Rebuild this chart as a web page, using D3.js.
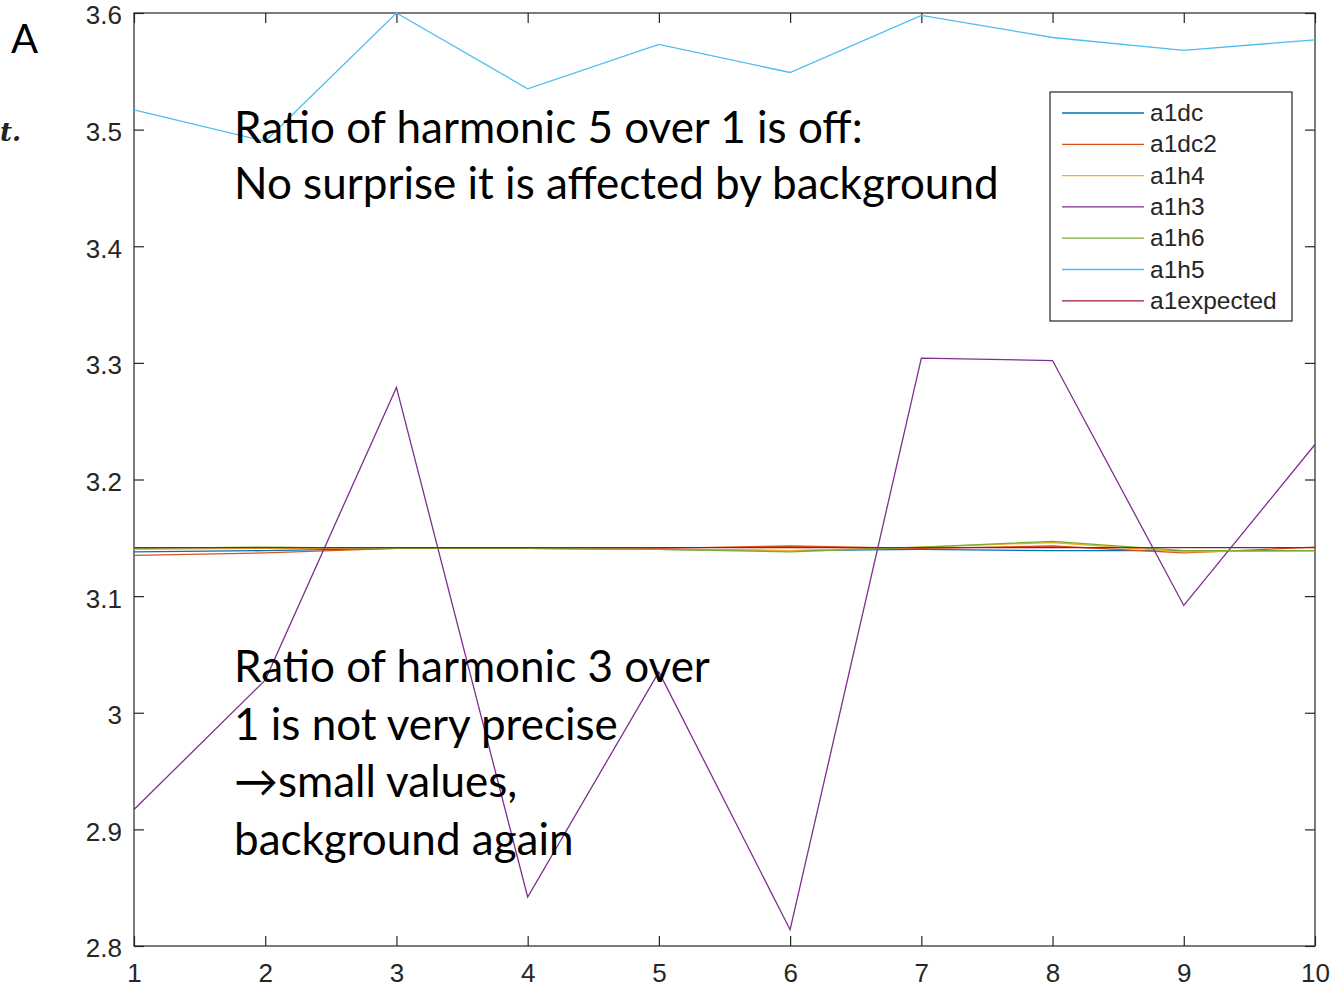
<!DOCTYPE html>
<html><head><meta charset="utf-8">
<script src="https://cdn.jsdelivr.net/npm/d3@7"></script>
<style>body{margin:0;background:#fff}svg{display:block}</style>
</head><body>
<script>
const xs = [1,2,3,4,5,6,7,8,9,10];
const seriesNames = ["a1dc","a1dc2","a1h4","a1h3","a1h6","a1h5","a1expected"];
const seriesColors = ["#0072BD","#D95319","#EDB120","#7E2F8E","#77AC30","#4DBEEE","#A2142F"];
const a1dc = [3.138,3.139,3.141,3.141,3.140,3.139,3.140,3.139,3.139,3.139];
const a1dc2 = [3.135,3.137,3.141,3.141,3.141,3.143,3.141,3.143,3.137,3.142];
const a1h4 = [3.140,3.141,3.141,3.141,3.140,3.139,3.142,3.146,3.138,3.139];
const a1h3 = [2.917,3.028,3.279,2.842,3.035,2.814,3.304,3.302,3.092,3.230];
const a1h6 = [3.141,3.142,3.141,3.141,3.140,3.138,3.142,3.147,3.139,3.139];
const a1h5 = [3.517,3.490,3.600,3.535,3.573,3.549,3.598,3.579,3.568,3.577];
const a1expected = [3.1416,3.1416,3.1416,3.1416,3.1416,3.1416,3.1416,3.1416,3.1416,3.1416];
const seriesValues = [a1dc,a1dc2,a1h4,a1h3,a1h6,a1h5,a1expected];
const yTicks = [2.8,2.9,3,3.1,3.2,3.3,3.4,3.5,3.6];
const xTicks = [1,2,3,4,5,6,7,8,9,10];
const noteTop = ["Ratio of harmonic 5 over 1 is off:","No surprise it is affected by background"];
const noteBottom = ["Ratio of harmonic 3 over","1 is not very precise","\u2192small values,","background again"];

const W=1344,H=991;
const L=134,R=1315,T=13,B=946;
const svg=d3.select("body").append("svg").attr("width",W).attr("height",H);
const x=d3.scaleLinear().domain([1,10]).range([L,R]);
const y=d3.scaleLinear().domain([2.8,3.6]).range([B,T]);
const axCol="#262626";
const tf="'Liberation Sans', Arial, Helvetica, sans-serif";

// box
svg.append("rect").attr("x",L).attr("y",T).attr("width",R-L).attr("height",B-T)
  .attr("fill","none").attr("stroke",axCol).attr("stroke-width",1.2);

// axes
const fmtY = d=> d===3? "3" : d3.format(".1f")(d);
const gx=svg.append("g").attr("transform",`translate(0,${B})`)
  .call(d3.axisBottom(x).tickValues(xTicks).tickSize(-10).tickPadding(18).tickFormat(d3.format("d")));
const gxt=svg.append("g").attr("transform",`translate(0,${T})`)
  .call(d3.axisTop(x).tickValues(xTicks).tickSize(-10).tickFormat(""));
const gy=svg.append("g").attr("transform",`translate(${L},0)`)
  .call(d3.axisLeft(y).tickValues(yTicks).tickSize(-10).tickPadding(12).tickFormat(fmtY));
const gyr=svg.append("g").attr("transform",`translate(${R},0)`)
  .call(d3.axisRight(y).tickValues(yTicks).tickSize(-10).tickFormat(""));
[gx,gxt,gy,gyr].forEach(g=>{
  g.attr("font-size",null).attr("font-family",null);
  g.select(".domain").remove();
  g.selectAll(".tick line").attr("stroke",axCol).attr("stroke-width",1.2);
  g.selectAll(".tick text").attr("fill",axCol).attr("font-family",tf).attr("font-size",26);
});
gx.selectAll(".tick text").attr("dy","0.71em");
gy.selectAll(".tick text").attr("dy","0.42em");

// lines
const line=d3.line().x((d,i)=>x(xs[i])).y(d=>y(d));
seriesValues.forEach((vals,k)=>{
  svg.append("path").datum(vals).attr("d",line).attr("fill","none")
    .attr("stroke",seriesColors[k]).attr("stroke-width",1.3);
});

// legend
const lg=svg.append("g");
lg.append("rect").attr("x",1050).attr("y",92).attr("width",242).attr("height",229)
  .attr("fill","#fff").attr("stroke",axCol).attr("stroke-width",1.2);
seriesNames.forEach((n,k)=>{
  const yy=113+k*31.3;
  lg.append("line").attr("x1",1062).attr("x2",1144).attr("y1",yy).attr("y2",yy)
    .attr("stroke",seriesColors[k]).attr("stroke-width",1.3);
  lg.append("text").attr("x",1150).attr("y",yy+8).text(n)
    .attr("font-family",tf).attr("font-size",24.5).attr("fill",axCol);
});

// annotations
const af="Lato, 'Open Sans', sans-serif";
noteTop.forEach((s,i)=>{
  svg.append("text").attr("x",234).attr("y",143+i*56).text(s)
    .attr("font-family",af).attr("font-size",44).attr("fill","#000");
});
noteBottom.forEach((s,i)=>{
  svg.append("text").attr("x",234).attr("y",682+i*57.5).text(s)
    .attr("font-family",af).attr("font-size",44).attr("fill","#000");
});
svg.append("text").attr("x",11).attr("y",53).text("A")
  .attr("font-family",af).attr("font-size",40).attr("fill","#000");
svg.append("text").attr("x",0).attr("y",141).text("t.")
  .attr("font-family","'DejaVu Serif', serif").attr("font-style","italic").attr("font-weight","bold")
  .attr("font-size",26).attr("fill","#222");
</script>
</body></html>
